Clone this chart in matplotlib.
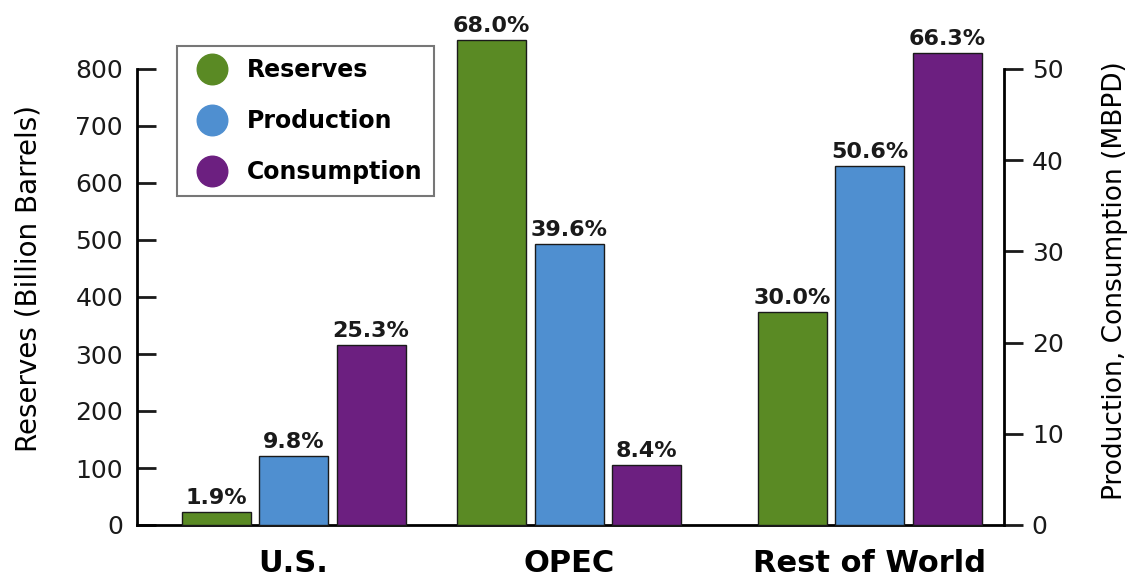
import numpy as np
import matplotlib
matplotlib.use('Agg')
import matplotlib.pyplot as plt
from matplotlib.lines import Line2D

plt.rcParams['font.family'] = ['DejaVu Sans']

# data
regions = ['U.S.', 'OPEC', 'Rest of World']
reserves = [22, 850, 373]          # billion barrels (left axis)
production = [7.6, 30.8, 39.4]     # MBPD (right axis)
consumption = [19.7, 6.6, 51.7]    # MBPD (right axis)
reserves_pct = ['1.9%', '68.0%', '30.0%']
production_pct = ['9.8%', '39.6%', '50.6%']
consumption_pct = ['25.3%', '8.4%', '66.3%']

green = '#5a8a24'
blue = '#4f8fd0'
purple = '#6c1f80'

# layout (x in pixel-like units of the plot area)
group_x = np.array([156.5, 432, 732.5])
bar_w = 69
step = 77.5

fig = plt.figure(figsize=(11.34, 5.84), dpi=100)
ax = fig.add_axes([137 / 1134, 1 - 525 / 584, 867 / 1134, 456 / 584])
ax2 = ax.twinx()

def draw(axis, xs, vals, color, labels):
    bars = axis.bar(xs, vals, width=bar_w, color=color, edgecolor='#1a1a1a',
                    linewidth=1.0, clip_on=False, zorder=3)
    for b, lab in zip(bars, labels):
        axis.annotate(lab, (b.get_x() + b.get_width() / 2, b.get_height()),
                      xytext=(0, 3), textcoords='offset points', ha='center',
                      va='bottom', fontsize=16, fontweight='bold', color='#1a1a1a',
                      annotation_clip=False)

draw(ax, group_x - step, reserves, green, reserves_pct)
draw(ax2, group_x, production, blue, production_pct)
draw(ax2, group_x + step, consumption, purple, consumption_pct)

ax.set_xlim(0, 867)
ax.set_ylim(0, 800)
ax2.set_ylim(0, 50)
ax.set_yticks(np.arange(0, 801, 100))
ax2.set_yticks(np.arange(0, 51, 10))

for a in (ax, ax2):
    a.spines['top'].set_visible(False)
    for s in ('left', 'right', 'bottom'):
        a.spines[s].set_linewidth(2)
ax.spines['right'].set_visible(False)
ax2.spines['left'].set_visible(False)
ax2.spines['bottom'].set_visible(False)

ax.tick_params(axis='y', direction='in', length=14, width=2, labelsize=18, pad=10,
               colors='#1a1a1a')
ax2.tick_params(axis='y', direction='out', length=14, width=2, labelsize=18, pad=6,
                colors='#1a1a1a')

ax.set_xticks(group_x)
ax.set_xticklabels(regions, fontsize=22, fontweight='bold')
ax.tick_params(axis='x', length=0, pad=17)

ax.set_ylabel('Reserves (Billion Barrels)', fontsize=20, va='center', ha='center')
ax.yaxis.set_label_coords(-0.125, 0.54)
ax2.set_ylabel('Production, Consumption (MBPD)', fontsize=19, va='center', ha='center')
ax2.yaxis.set_label_coords(1.128, 0.535)

handles = [Line2D([], [], marker='o', linestyle='none', markersize=22,
                  markerfacecolor=c, markeredgecolor=c) for c in (green, blue, purple)]
leg = fig.legend(handles, ['Reserves', 'Production', 'Consumption'],
                 loc='upper left', bbox_to_anchor=(177 / 1134, 1 - 46 / 584),
                 prop={'size': 17, 'weight': 'bold'}, frameon=True, fancybox=False,
                 edgecolor='#555555', borderpad=0.5, labelspacing=1.15,
                 handletextpad=0.45, borderaxespad=0)
leg.get_frame().set_linewidth(1.5)

fig.savefig('out.png', dpi=100)
